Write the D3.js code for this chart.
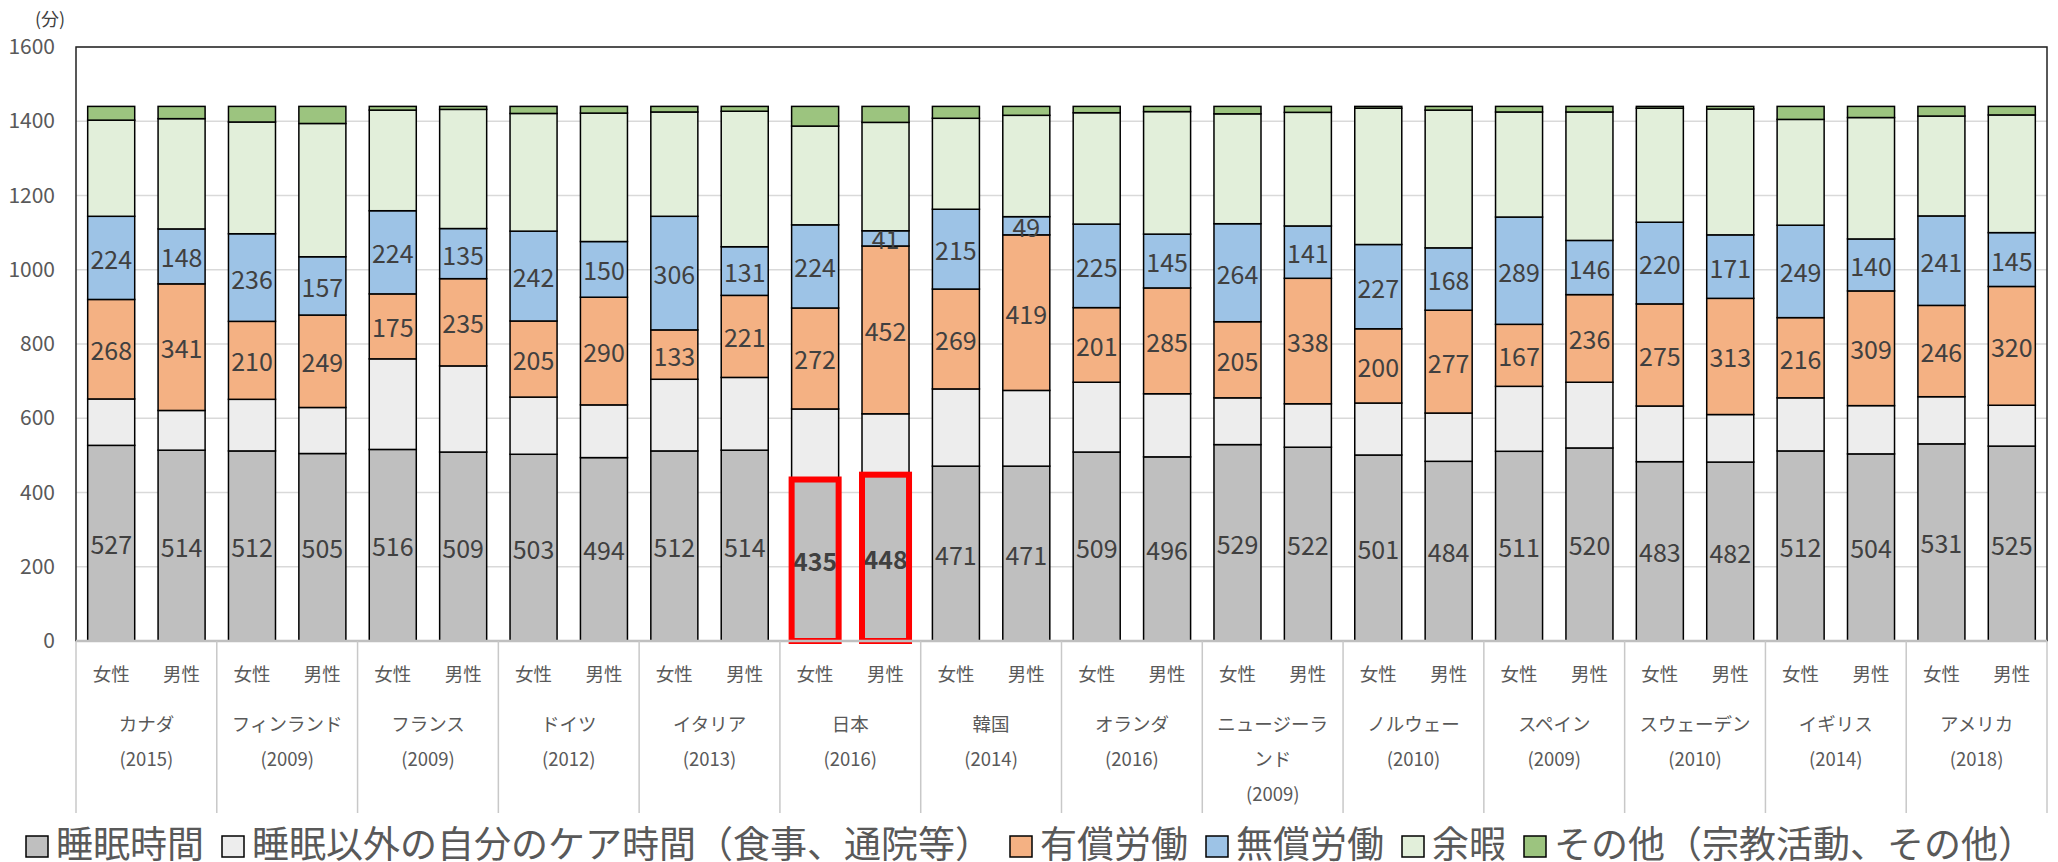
<!DOCTYPE html>
<html>
<head>
<meta charset="utf-8">
<script src="https://cdn.jsdelivr.net/npm/d3@7"></script>
<style>
  body { margin: 0; background: #fff; }
  svg { display: block; }
  text { font-family: "Noto Sans CJK JP", "Noto Sans", sans-serif; }
</style>
</head>
<body>
<svg id="chart" width="2058" height="862"></svg>
<script>
// --- data (minutes per day) ---
const countries = ['カナダ', 'フィンランド', 'フランス', 'ドイツ', 'イタリア', '日本', '韓国', 'オランダ',
  'ニュージーランド', 'ノルウェー', 'スペイン', 'スウェーデン', 'イギリス', 'アメリカ'];
const years = ['(2015)', '(2009)', '(2009)', '(2012)', '(2013)', '(2016)', '(2014)', '(2016)',
  '(2009)', '(2010)', '(2009)', '(2010)', '(2014)', '(2018)'];
const sexes = ['女性', '男性'];
const seriesNames = ['睡眠時間', '睡眠以外の自分のケア時間（食事、通院等）', '有償労働', '無償労働', '余暇', 'その他（宗教活動、その他）'];
const seriesColors = ['#bfbfbf', '#ededed', '#f4b183', '#9dc3e6', '#e2efda', '#9cc47f'];

const sleep      = [527, 514, 512, 505, 516, 509, 503, 494, 512, 514, 435, 448, 471, 471, 509, 496, 529, 522, 501, 484, 511, 520, 483, 482, 512, 504, 531, 525];
const selfCare   = [125, 107, 139, 124, 244, 232, 154, 142, 193, 196, 190, 164, 208, 204, 188, 170, 126, 117, 140, 130, 175, 177, 150, 128, 143, 130, 127, 110];
const paidWork   = [268, 341, 210, 249, 175, 235, 205, 290, 133, 221, 272, 452, 269, 419, 201, 285, 205, 338, 200, 277, 167, 236, 275, 313, 216, 309, 246, 320];
const unpaidWork = [224, 148, 236, 157, 224, 135, 242, 150, 306, 131, 224, 41, 215, 49, 225, 145, 264, 141, 227, 168, 289, 146, 220, 171, 249, 140, 241, 145];
const leisure    = [259, 297, 301, 359, 271, 321, 317, 346, 281, 365, 266, 292, 245, 273, 300, 330, 296, 306, 367, 371, 283, 346, 307, 339, 285, 327, 269, 317];
const other      = [37, 33, 42, 46, 10, 8, 19, 18, 15, 13, 53, 43, 32, 24, 17, 14, 20, 16, 5, 10, 15, 15, 5, 7, 35, 30, 26, 23];

const yTicks = [0, 200, 400, 600, 800, 1000, 1200, 1400, 1600];
const highlightCountry = '日本';

// --- layout ---
const svg = d3.select('#chart');
const plotLeft = 76, plotRight = 2047, plotTop = 47, plotBase = 641;

const keys = ['sleep', 'care', 'paid', 'unpaid', 'leisure', 'other'];
const labelled = ['sleep', 'paid', 'unpaid'];

const bars = d3.range(sleep.length).map(i => ({
  i,
  country: countries[Math.floor(i / 2)],
  sex: sexes[i % 2],
  sleep: sleep[i], care: selfCare[i], paid: paidWork[i],
  unpaid: unpaidWork[i], leisure: leisure[i], other: other[i]
}));

const stacked = d3.stack().keys(keys)(bars);
const color = d3.scaleOrdinal().domain(keys).range(seriesColors);

const x = d3.scaleBand().domain(d3.range(bars.length)).range([plotLeft, plotRight])
  .paddingInner(0.332).paddingOuter(0.166);
const xg = d3.scaleBand().domain(countries).range([plotLeft, plotRight]);
const y = d3.scaleLinear().domain([0, 1600]).range([plotBase, plotTop]);

// gridlines
svg.append('g')
  .selectAll('line')
  .data(yTicks)
  .join('line')
  .attr('x1', plotLeft).attr('x2', plotRight)
  .attr('y1', d => y(d)).attr('y2', d => y(d))
  .attr('stroke', '#d9d9d9').attr('stroke-width', 1.5);

// y axis labels
const yAxis = svg.append('g')
  .attr('transform', `translate(${plotLeft},0)`)
  .call(d3.axisLeft(y).tickValues(yTicks).tickFormat(d3.format('d')).tickSize(0).tickPadding(21));
yAxis.select('.domain').remove();
yAxis.selectAll('text')
  .attr('font-size', 21)
  .attr('fill', '#595959')
  .style('font-family', '"Noto Sans CJK JP", sans-serif');

svg.append('text')
  .attr('x', 50).attr('y', 18)
  .attr('text-anchor', 'middle').attr('dominant-baseline', 'central')
  .attr('font-size', 18).attr('fill', '#404040')
  .text('(分)');

// stacked bars
const layers = svg.append('g')
  .selectAll('g')
  .data(stacked)
  .join('g')
  .attr('fill', d => color(d.key));

layers.selectAll('rect')
  .data(d => d)
  .join('rect')
  .attr('x', d => x(d.data.i))
  .attr('width', x.bandwidth())
  .attr('y', d => y(d[1]))
  .attr('height', d => y(d[0]) - y(d[1]))
  .attr('stroke', '#000')
  .attr('stroke-width', 1.5);

// value labels
const labelLayers = stacked.filter(s => labelled.includes(s.key));
svg.append('g')
  .selectAll('g')
  .data(labelLayers)
  .join('g')
  .selectAll('text')
  .data(d => d)
  .join('text')
  .attr('x', d => x(d.data.i) + x.bandwidth() / 2)
  .attr('y', d => y((d[0] + d[1]) / 2))
  .attr('text-anchor', 'middle')
  .attr('dominant-baseline', 'central')
  .attr('font-size', 25)
  .attr('fill', '#404040')
  .attr('font-weight', d => d.data.country === highlightCountry && d[0] === 0 ? 'bold' : null)
  .text(d => d[1] - d[0]);

// red frame round Japan's sleep time
svg.append('g')
  .selectAll('rect')
  .data(stacked[0].filter(d => d.data.country === highlightCountry))
  .join('rect')
  .attr('x', d => x(d.data.i))
  .attr('width', x.bandwidth())
  .attr('y', d => y(d[1]))
  .attr('height', d => y(d[0]) - y(d[1]))
  .attr('fill', 'none')
  .attr('stroke', '#ff0000')
  .attr('stroke-width', 6);

// plot border
svg.append('rect')
  .attr('x', plotLeft).attr('y', plotTop)
  .attr('width', plotRight - plotLeft).attr('height', plotBase - plotTop)
  .attr('fill', 'none').attr('stroke', '#222').attr('stroke-width', 1.5);

// category axis
const catAxis = svg.append('g');
catAxis.append('line')
  .attr('x1', plotLeft).attr('x2', plotRight)
  .attr('y1', plotBase).attr('y2', plotBase)
  .attr('stroke', '#bfbfbf').attr('stroke-width', 2.5);

const bounds = countries.map(c => xg(c)).concat([plotRight]);
catAxis.selectAll('line.sep')
  .data(bounds)
  .join('line')
  .attr('class', 'sep')
  .attr('x1', d => d).attr('x2', d => d)
  .attr('y1', plotBase).attr('y2', 813)
  .attr('stroke', '#c8c8c8').attr('stroke-width', 1.5);

catAxis.selectAll('text.sex')
  .data(bars)
  .join('text')
  .attr('class', 'sex')
  .attr('x', d => x(d.i) + x.bandwidth() / 2)
  .attr('y', 673)
  .attr('text-anchor', 'middle').attr('dominant-baseline', 'central')
  .attr('font-size', 18.5).attr('fill', '#595959')
  .text(d => d.sex);

// country name + year, wrapped to fit the group width
function wrapChars(str, maxW, size) {
  const probe = svg.append('text').attr('font-size', size);
  const lines = [];
  let cur = '';
  for (const ch of str) {
    probe.text(cur + ch);
    if (cur && probe.node().getComputedTextLength() > maxW) {
      lines.push(cur);
      cur = ch;
    } else {
      cur += ch;
    }
  }
  if (cur) lines.push(cur);
  probe.remove();
  return lines;
}

countries.forEach((c, k) => {
  const lines = wrapChars(c, 118, 18.5).concat([years[k]]);
  catAxis.append('g')
    .selectAll('text')
    .data(lines)
    .join('text')
    .attr('x', xg(c) + xg.bandwidth() / 2)
    .attr('y', (d, j) => 723 + j * 35)
    .attr('text-anchor', 'middle').attr('dominant-baseline', 'central')
    .attr('font-size', 18.5).attr('fill', '#595959')
    .text(d => d);
});

// legend
const legend = svg.append('g');
let lx = 26;
seriesNames.forEach((name, k) => {
  legend.append('rect')
    .attr('x', lx).attr('y', 836)
    .attr('width', 22).attr('height', 21)
    .attr('fill', seriesColors[k])
    .attr('stroke', '#000').attr('stroke-width', 1.5);
  const t = legend.append('text')
    .attr('x', lx + 30).attr('y', 842)
    .attr('dominant-baseline', 'central')
    .attr('font-size', 37).attr('fill', '#595959')
    .text(name);
  lx += 30 + t.node().getComputedTextLength() + 18;
});
</script>
</body>
</html>
